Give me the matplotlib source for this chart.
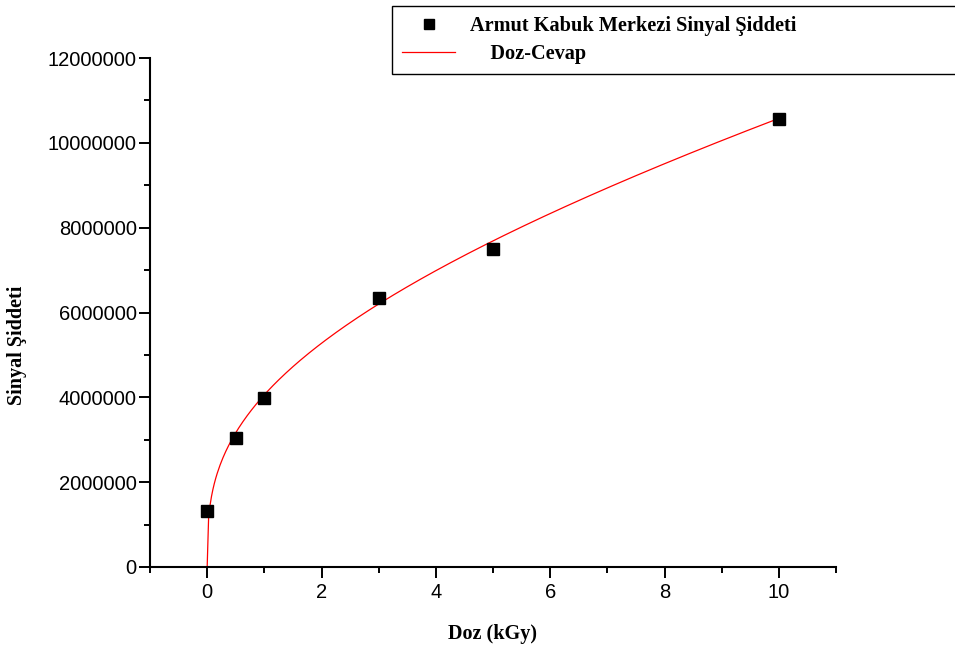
import numpy as np
import matplotlib
matplotlib.use("Agg")
import matplotlib.pyplot as plt
from matplotlib.ticker import MultipleLocator, FuncFormatter

# Measured signal intensity for each irradiation dose
doses = [0, 0.5, 1, 3, 5, 10]
signal = [1320000, 3040000, 3990000, 6340000, 7500000, 10560000]

# Dose-response fit parameters: y = a * x**b + c * x
fit_a = 3807000
fit_b = 0.325
fit_c = 253000

xlabel = "Doz (kGy)"
ylabel = "Sinyal Şiddeti"
label_points = "Armut Kabuk Merkezi Sinyal Şiddeti"
label_fit = "    Doz-Cevap"

serif = ["Liberation Serif", "DejaVu Serif"]
sans = ["Liberation Sans", "DejaVu Sans"]

fig = plt.figure(figsize=(9.55, 6.5), dpi=100)
ax = fig.add_axes([150 / 955, 1 - 567 / 650, (836 - 150) / 955, (567 - 58) / 650])

xfit = np.linspace(0, 10, 400)
yfit = fit_a * xfit ** fit_b + fit_c * xfit
ax.plot(xfit, yfit, color="#ff0000", lw=0.9, label=label_fit, zorder=2)
ax.plot(doses, signal, ls="none", marker="s", ms=9, color="black",
        mec="black", label=label_points, zorder=3)

ax.set_xlim(-1, 11)
ax.set_ylim(0, 12000000)
ax.xaxis.set_major_locator(MultipleLocator(2))
ax.xaxis.set_minor_locator(MultipleLocator(1))
ax.yaxis.set_major_locator(MultipleLocator(2000000))
ax.yaxis.set_minor_locator(MultipleLocator(1000000))
ax.yaxis.set_major_formatter(FuncFormatter(lambda v, p: f"{int(round(v))}"))
ax.xaxis.set_major_formatter(FuncFormatter(lambda v, p: f"{int(round(v))}"))

for s in ("top", "right"):
    ax.spines[s].set_visible(False)
for s in ("left", "bottom"):
    ax.spines[s].set_linewidth(1.5)
    ax.spines[s].set_color("black")

ax.tick_params(which="major", direction="out", length=8, width=1.4, color="black")
ax.tick_params(which="minor", direction="out", length=4.5, width=1.4, color="black")
ax.tick_params(axis="y", which="major", pad=1.5)
ax.tick_params(axis="x", which="major", pad=3.5)
for lab in ax.get_xticklabels() + ax.get_yticklabels():
    lab.set_family(sans)
    lab.set_fontsize(14.5)

ax.set_xlabel(xlabel, family=serif, fontweight="bold", fontsize=14.5, labelpad=16)
fig.text(17 / 955, 1 - 345 / 650, ylabel, family=serif, fontweight="bold",
         fontsize=14.5, rotation=90, ha="center", va="center")

h, l = ax.get_legend_handles_labels()
leg = fig.legend(h[::-1], l[::-1], loc="upper left",
                 bbox_to_anchor=(392 / 955, 1 - 6 / 650, (975 - 392) / 955, 0.0),
                 mode="expand", frameon=True, fancybox=False, edgecolor="black",
                 framealpha=1, borderpad=0.5, handlelength=2.6, handletextpad=0.75,
                 labelspacing=0.4, borderaxespad=0.0, markerscale=0.75,
                 prop={"family": serif, "weight": "bold", "size": 14.6})
leg.get_frame().set_linewidth(1.0)

fig.savefig("out.png", dpi=100)
